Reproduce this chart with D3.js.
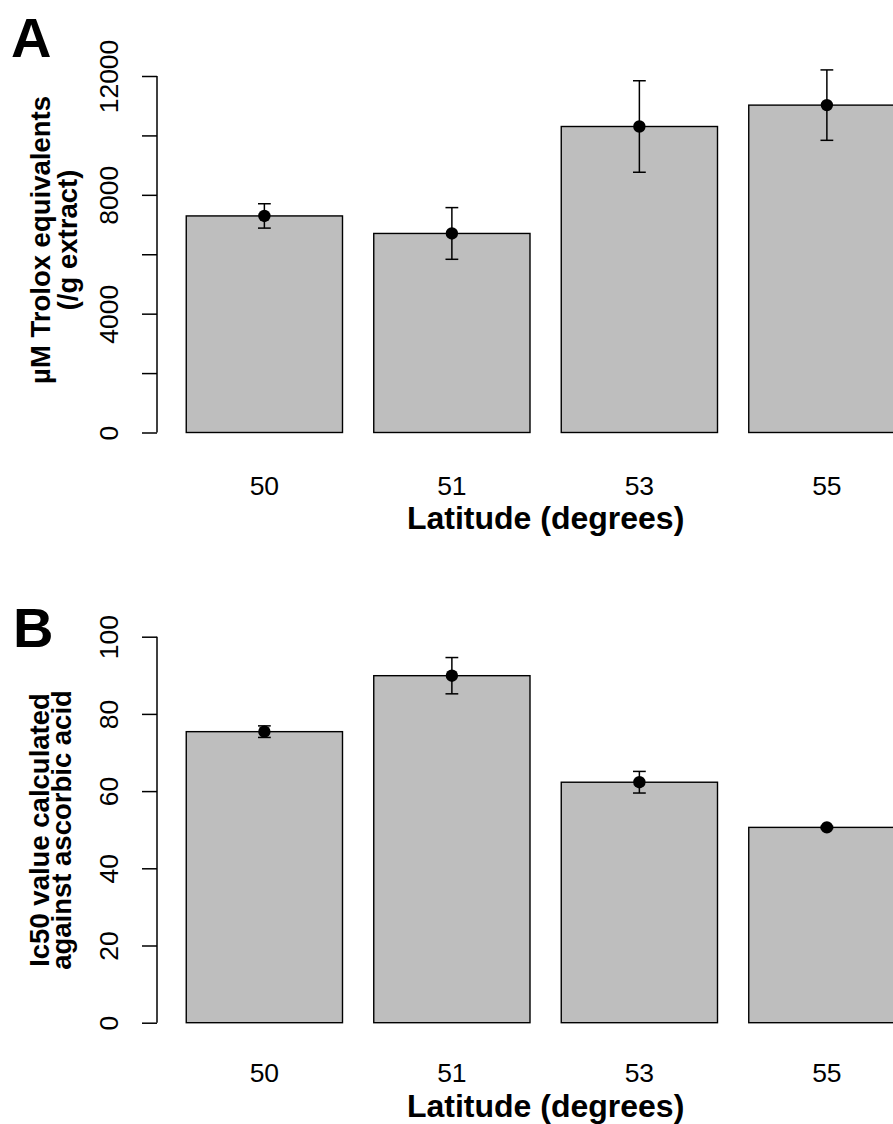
<!DOCTYPE html>
<html>
<head>
<meta charset="utf-8">
<script src="https://cdn.jsdelivr.net/npm/d3@7"></script>
<style>
  html, body { margin: 0; padding: 0; background: #fff; }
  svg { display: block; font-family: "Liberation Sans", Arial, Helvetica, sans-serif; }
</style>
</head>
<body>
<script>
// ---- data ----
const categories = ["50", "51", "53", "55"];
const troloxMean = [7290, 6700, 10300, 11020];
const troloxErr = [410, 870, 1540, 1185];
const troloxTicks = [0, 2000, 4000, 6000, 8000, 10000, 12000];
const troloxTickLabels = ["0", "", "4000", "", "8000", "", "12000"];
const ic50Mean = [75.4, 89.9, 62.3, 50.6];
const ic50Err = [1.5, 4.7, 2.8, 0.3];
const ic50Ticks = [0, 20, 40, 60, 80, 100];
const ic50TickLabels = ["0", "20", "40", "60", "80", "100"];

const W = 893, H = 1124;
const svg = d3.select("body").append("svg").attr("width", W).attr("height", H);

// bar positions in barplot units (width 1, space 0.2)
const x = d3.scaleLinear().domain([0.016, 4.8]).range([157.5, 905]);
const barLeft = i => 0.2 + i * 1.2;

function panel(opts) {
  const g = svg.append("g");
  const y = d3.scaleLinear().domain(opts.domain).range(opts.range);

  // bars
  g.selectAll("rect.bar").data(opts.mean).join("rect")
    .attr("class", "bar")
    .attr("x", (d, i) => x(barLeft(i)))
    .attr("width", (d, i) => x(barLeft(i) + 1) - x(barLeft(i)))
    .attr("y", d => y(d))
    .attr("height", d => y(0) - y(d))
    .attr("fill", "#bebebe")
    .attr("stroke", "#000")
    .attr("stroke-width", 1.4);

  // error bars
  const cx = i => x(barLeft(i) + 0.5);
  const eb = g.selectAll("g.err").data(opts.mean).join("g").attr("class", "err");
  eb.append("line")
    .attr("x1", (d, i) => cx(i)).attr("x2", (d, i) => cx(i))
    .attr("y1", (d, i) => y(d - opts.err[i])).attr("y2", (d, i) => y(d + opts.err[i]))
    .attr("stroke", "#000").attr("stroke-width", 1.5);
  [1, -1].forEach(s => {
    eb.append("line")
      .attr("x1", (d, i) => cx(i) - 6.4).attr("x2", (d, i) => cx(i) + 6.4)
      .attr("y1", (d, i) => y(d + s * opts.err[i])).attr("y2", (d, i) => y(d + s * opts.err[i]))
      .attr("stroke", "#000").attr("stroke-width", 1.5);
  });
  eb.append("circle")
    .attr("cx", (d, i) => cx(i)).attr("cy", d => y(d)).attr("r", 6.2)
    .attr("fill", "#000");

  // y axis
  const axis = d3.axisLeft(y).tickValues(opts.ticks).tickSize(15)
    .tickFormat((d, i) => opts.tickLabels[i]);
  const ax = g.append("g").attr("transform", `translate(157,0)`).call(axis);
  ax.select(".domain").attr("d", `M0,${y(opts.ticks[0])}V${y(opts.ticks[opts.ticks.length - 1])}`)
    .attr("stroke-width", 1.5);
  ax.selectAll(".tick line").attr("stroke-width", 1.5);
  ax.selectAll(".tick text")
    .attr("x", null).attr("dy", null)
    .attr("transform", "translate(-39,0) rotate(-90)")
    .attr("text-anchor", "middle")
    .attr("fill", "#000")
    .style("font-size", "26.5px")
    .style("font-family", "'Liberation Sans', Arial, sans-serif");

  // x category labels
  g.selectAll("text.cat").data(categories).join("text")
    .attr("class", "cat")
    .attr("x", (d, i) => cx(i))
    .attr("y", y(0) + opts.catOffset)
    .attr("text-anchor", "middle")
    .style("font-size", "26.5px")
    .text(d => d);

  // x title
  g.append("text")
    .attr("x", (x(0.016) + x(4.984)) / 2)
    .attr("y", y(0) + opts.xlabOffset)
    .attr("text-anchor", "middle")
    .style("font-size", "32px").style("font-weight", "bold")
    .text("Latitude (degrees)");

  // y title (two lines)
  opts.ylab.forEach((t, k) => {
    g.append("text")
      .attr("transform", `translate(${opts.ylabX[k]},${opts.ylabY}) rotate(-90)`)
      .attr("text-anchor", "middle")
      .style("font-size", "27.5px").style("font-weight", "bold")
      .text(t);
  });

  // panel letter
  g.append("text")
    .attr("x", opts.letterX).attr("y", opts.letterY)
    .style("font-size", "56px").style("font-weight", "bold")
    .text(opts.letter);
}

panel({
  mean: troloxMean, err: troloxErr,
  domain: [0, 12000], range: [432.5, 76],
  ticks: troloxTicks, tickLabels: troloxTickLabels,
  ylab: ["µM Trolox equivalents", "(/g extract)"], ylabX: [50, 77], ylabY: 240,
  catOffset: 62, xlabOffset: 96,
  letter: "A", letterX: 11, letterY: 57
});

panel({
  mean: ic50Mean, err: ic50Err,
  domain: [0, 100], range: [1022.7, 636.7],
  ticks: ic50Ticks, tickLabels: ic50TickLabels,
  ylab: ["Ic50 value calculated", "against ascorbic acid"], ylabX: [49, 71], ylabY: 830,
  catOffset: 59, xlabOffset: 94,
  letter: "B", letterX: 13, letterY: 647
});
</script>
</body>
</html>
